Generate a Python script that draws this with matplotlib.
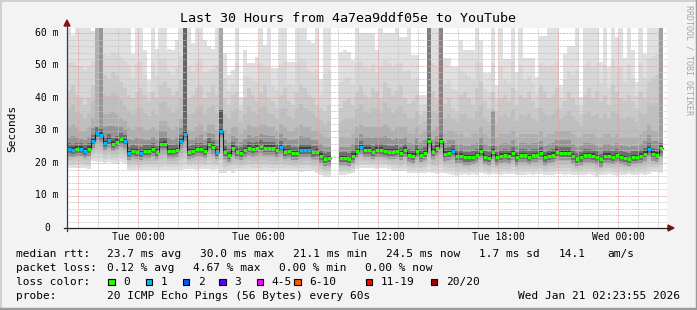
import numpy as np
import matplotlib
matplotlib.use("Agg")
import matplotlib.pyplot as plt
from matplotlib.patches import Rectangle, Polygon
from matplotlib.lines import Line2D

nan = np.nan

# one column every 12 minutes, hours counted from Tue 00:00
start_hour = -3.55
step_hour = 0.2

median = [24.3, 24.1, 24.4, 24.4, 23.8, 24.4, 26.8, 29.3, 28.7, 26.2,
          27.2, 26.0, 26.6, 27.4, 26.8, 23.2, 23.7, 23.5, 23.2, 23.7,
          23.7, 24.3, 23.5, 25.8, 26.0, 23.7, 23.7, 24.0, 26.8, 29.0,
          23.5, 23.7, 24.3, 24.3, 23.7, 25.9, 24.9, 23.5, 29.8, 23.5,
          22.5, 24.7, 23.5, 23.2, 24.0, 24.7, 24.3, 24.7, 25.3, 24.7,
          24.7, 24.7, 24.0, 24.9, 23.5, 23.7, 23.2, 23.2, 24.1, 24.1,
          24.1, 23.3, 23.5, 22.3, 21.2, 21.5, nan, nan, 21.5, 21.5,
          21.3, 22.3, 23.7, 24.9, 24.1, 24.1, 23.5, 24.1, 24.1, 23.7,
          23.5, 23.5, 23.7, 23.2, 24.1, 22.5, 22.3, 23.7, 22.5, 23.2,
          26.8, 23.5, 24.7, 26.8, 22.9, 23.2, 23.7, 22.3, 22.3, 21.7,
          21.7, 21.9, 22.5, 23.7, 21.9, 21.6, 23.5, 21.7, 22.3, 22.5,
          22.3, 23.2, 21.7, 22.5, 22.5, 21.9, 22.5, 22.5, 23.1, 21.7,
          22.3, 22.6, 23.5, 23.2, 23.2, 23.2, 22.2, 21.3, 21.7, 22.5,
          22.5, 22.3, 21.9, 21.1, 22.3, 22.3, 21.9, 22.5, 21.9, 21.6,
          21.3, 21.9, 21.9, 22.3, 22.9, 24.3, 22.9, 22.6, 24.5]

# columns where 1 of 20 pings was lost
one_loss = [0, 1, 3, 4, 6, 7, 8, 9, 10, 14, 15, 18, 28, 29, 37, 38,
            53, 58, 59, 60, 73, 96, 145]

smoke_top = [61.5, 59.4, 61.5, 61.5, 61.5, 61.5, 60.5, 61.5, 61.5, 61.5,
             61.5, 61.5, 61.5, 61.5, 61.5, 61.5, 53.5, 61.5, 61.5, 54.8,
             45.5, 61.5, 55.0, 61.5, 61.5, 55.0, 54.8, 58.0, 61.5, 61.5,
             61.5, 57.0, 61.5, 61.5, 58.0, 56.0, 55.0, 61.5, 61.5, 53.8,
             47.0, 48.5, 61.5, 40.3, 54.8, 50.7, 50.7, 52.6, 61.5, 56.3,
             61.5, 49.2, 49.2, 61.5, 61.5, 51.0, 51.0, 61.5, 61.5, 61.5,
             57.8, 57.0, 61.5, 46.0, 61.5, 61.5, nan, nan, 54.3, 54.8,
             54.3, 51.7, 61.5, 60.0, 60.0, 60.0, 60.0, 54.8, 61.5, 60.0,
             60.0, 60.0, 61.5, 58.8, 58.8, 61.5, 53.2, 53.2, 40.9, 40.9,
             61.5, 61.5, 61.5, 61.5, 52.3, 52.3, 49.6, 49.6, 57.8, 54.8,
             54.8, 54.8, 61.5, 58.0, 47.6, 47.6, 61.5, 44.0, 61.5, 52.0,
             52.0, 61.5, 48.0, 61.5, 52.3, 52.3, 52.3, 46.6, 59.0, 59.0,
             61.5, 61.5, 61.5, 44.0, 53.5, 56.0, 56.0, 61.5, 40.3, 61.5,
             61.5, 61.5, 61.5, 51.2, 61.5, 49.6, 61.5, 58.8, 61.5, 52.3,
             61.5, 54.8, 45.0, 61.5, 53.5, 61.5, 61.5, 61.5, 61.5]

smoke_mid = [42, 44, 41, 40, 38, 40, 44, 48, 50, 47,
             46, 48, 47, 45, 43, 41, 40, 42, 43, 41,
             39, 42, 40, 44, 45, 43, 41, 42, 46, 50,
             40, 41, 43, 44, 40, 42, 44, 41, 48, 40,
             38, 41, 42, 36, 40, 43, 41, 39, 42, 44,
             40, 39, 37, 41, 43, 39, 38, 42, 44, 43,
             41, 40, 38, 37, 36, 38, nan, nan, 37, 39,
             40, 38, 42, 44, 41, 40, 43, 42, 40, 45,
             43, 41, 42, 44, 40, 38, 39, 41, 35, 36,
             48, 42, 40, 47, 38, 40, 37, 36, 41, 42,
             40, 38, 43, 45, 39, 37, 42, 36, 40, 41,
             39, 43, 38, 41, 40, 42, 39, 37, 44, 42,
             40, 41, 43, 37, 39, 42, 40, 38, 35, 41,
             43, 40, 42, 39, 41, 38, 44, 42, 40, 39,
             41, 39, 37, 42, 40, 45, 46, 47, 50]

smoke_upper = [31, 32, 31, 30, 30, 31, 34, 37, 38, 35,
               35, 36, 35, 34, 33, 31, 30, 31, 31, 30,
               30, 31, 30, 33, 33, 31, 30, 31, 34, 40,
               30, 30, 31, 32, 30, 32, 32, 30, 36, 30,
               29, 31, 31, 29, 30, 32, 31, 31, 32, 32,
               31, 31, 30, 32, 31, 30, 30, 31, 32, 31,
               31, 30, 30, 29, 28, 28, nan, nan, 28, 28,
               28, 29, 31, 32, 31, 31, 31, 31, 31, 32,
               31, 30, 31, 31, 31, 29, 29, 31, 29, 30,
               36, 30, 31, 35, 29, 30, 30, 29, 29, 28,
               28, 29, 29, 31, 29, 28, 31, 28, 29, 29,
               29, 30, 28, 29, 29, 29, 29, 29, 30, 28,
               29, 29, 30, 30, 30, 30, 29, 28, 28, 29,
               29, 29, 28, 28, 29, 29, 28, 29, 28, 28,
               28, 28, 28, 29, 30, 32, 30, 30, 33]

smoke_low = [18.4, 18.4, 18.5, 18.5, 18.4, 18.3, 20.5, 20.4, 20.2, 20.0,
             20.3, 20.1, 19.8, 20.4, 20.0, 17.8, 17.9, 17.8, 17.7, 17.9,
             17.8, 17.8, 18.0, 17.7, 17.8, 17.8, 17.9, 17.8, 17.8, 18.1,
             18.2, 18.2, 18.0, 18.3, 18.1, 18.2, 18.0, 18.2, 16.9, 16.9,
             17.4, 16.9, 17.5, 17.5, 17.4, 17.6, 17.5, 17.5, 17.4, 17.6,
             17.5, 17.3, 17.5, 17.5, 17.6, 17.4, 17.5, 17.5, 17.3, 17.5,
             17.5, 17.4, 17.0, 16.3, 15.8, 15.8, nan, nan, 16.3, 16.3,
             16.5, 16.8, 18.3, 18.5, 18.5, 18.4, 18.5, 18.3, 18.5, 18.5,
             18.2, 17.6, 17.6, 17.5, 17.6, 17.0, 16.9, 16.8, 16.8, 17.0,
             17.2, 17.0, 16.7, 16.9, 16.8, 16.6, 16.4, 16.0, 16.2, 16.6,
             16.3, 16.5, 16.4, 16.8, 16.5, 16.2, 16.5, 16.6, 16.4, 16.5,
             16.5, 16.7, 16.2, 16.4, 16.3, 16.6, 16.4, 16.5, 16.5, 16.3,
             16.4, 16.2, 16.5, 16.6, 16.4, 16.6, 16.3, 16.2, 16.4, 16.3,
             16.5, 16.4, 15.8, 16.3, 16.2, 16.6, 16.4, 16.1, 16.4, 16.2,
             16.6, 16.2, 16.4, 16.5, 16.3, 16.6, 17.2, 17.3, 17.0]

# columns where many pings were slow (dark streaks)
spike_cols = [7, 8, 29, 38, 38, 90, 93, 106, 148]
spike_tops = [61.5, 61.5, 61.5, 61.5, 36.3, 61.5, 61.5, 36.0, 61.5]
spike_share = [0.25, 0.4, 0.7, 0.3, 0.8, 0.55, 0.5, 0.4, 0.35]

loss_labels = ["0", "1", "2", "3", "4-5", "6-10", "11-19", "20/20"]
loss_colors = ["#26ff00", "#00b8ff", "#0059ff", "#5e00ff", "#ff00ff",
               "#ff5500", "#ff0000", "#a10000"]

hour_ticks = [0, 6, 12, 18, 24]
hour_labels = ["Tue 00:00", "Tue 06:00", "Tue 12:00", "Tue 18:00", "Wed 00:00"]

W, H = 697, 310
MONO = "DejaVu Sans Mono"

fig = plt.figure(figsize=(W / 100, H / 100), dpi=100)
fig.patch.set_facecolor("#f3f3f3")


def fx(x):
    return x / W


def fy(y):
    return 1 - y / H


def put(x, y, s, **kw):
    kw.setdefault("family", MONO)
    kw.setdefault("fontsize", 8)
    kw.setdefault("va", "center")
    fig.text(fx(x), fy(y), s, **kw)


ax = fig.add_axes([fx(67), fy(228), 600 / W, 200 / H])
ax.set_facecolor("white")
for s in ax.spines.values():
    s.set_visible(False)
ax.set_xticks([])
ax.set_yticks([])
ymax = 200 / 3.25
ax.set_xlim(start_hour, start_hour + 30)
ax.set_ylim(0, ymax)

med = np.array(median)
n = len(med)
t = start_hour + step_hour * np.arange(n)
top = np.array(smoke_top)
mid = np.minimum(np.array(smoke_mid, float), top)
upp = np.minimum(np.array(smoke_upper, float), mid)
low = np.array(smoke_low)


def layer(lo, hi, color, z):
    ax.bar(t, hi - lo, bottom=lo, width=step_hour, align="edge",
           color=color, lw=0, antialiased=False, zorder=z)


# smoke, light outside to dark near the median
layer(low, top, "#e0e0e0", 1)
layer(low + 0.15 * (med - low), mid + 0.45 * (top - mid), "#d6d6d6", 1.05)
layer(low + 0.3 * (med - low), mid, "#c9c9c9", 1.1)
layer(low + 0.45 * (med - low), upp + 0.5 * (mid - upp), "#bebebe", 1.15)
layer(low + 0.6 * (med - low), upp, "#afafaf", 1.2)
layer(med - 2.2, med + 0.55 * (upp - med), "#959595", 1.3)
for c, tp, sh in zip(spike_cols, spike_tops, spike_share):
    g = 0.85 - 0.65 * sh
    ax.bar(t[c], tp - med[c], bottom=med[c], width=step_hour, align="edge",
           color=(g, g, g), lw=0, antialiased=False, zorder=1.35)
layer(med - 1.3, med + 1.8, "#6e6e6e", 1.4)
layer(med - 0.6, med + 0.7, "#404040", 1.5)

# grid
dot = (0, (0.72, 0.72))
for h in range(-3, 27):
    if h % 3 == 0:
        ax.axvline(h, color="#e89a9a", lw=0.72, ls=dot, zorder=3)
    else:
        ax.axvline(h, color="#c4c4c4", lw=0.72, ls=dot, zorder=2.9)
for v in range(2, 62, 2):
    if v % 10 == 0:
        ax.axhline(v, color="#e89a9a", lw=0.72, ls=dot, zorder=3)
    else:
        ax.axhline(v, color="#c4c4c4", lw=0.72, ls=dot, zorder=2.9)

# median line
edges = np.append(t, t[-1] + step_hour)
ax.step(edges, np.append(med, med[-1]), where="post", color="#202020",
        lw=0.8, zorder=4)
cols = [loss_colors[1] if i in one_loss else loss_colors[0] for i in range(n)]
ax.hlines(med, t, t + step_hour, colors=cols, lw=2.2, zorder=5)

# axes lines and arrows
fig.add_artist(Line2D([fx(67), fx(67)], [fy(231), fy(25)], color="#3a3a3a", lw=0.9))
fig.add_artist(Line2D([fx(64), fx(670)], [fy(228), fy(228)], color="#202020", lw=0.9))
fig.add_artist(Polygon([[fx(64), fy(26)], [fx(70), fy(26)], [fx(67), fy(20)]],
                       closed=True, color="#8b1010", transform=fig.transFigure))
fig.add_artist(Polygon([[fx(668), fy(225)], [fx(668), fy(231)], [fx(674), fy(228)]],
                       closed=True, color="#8b1010", transform=fig.transFigure))

# tick labels
for v in range(0, 70, 10):
    y = 228 - v * 3.25
    put(47, y, "0" if v == 0 else "%d m" % v, fontsize=7, ha="center")
for h, lab in zip(hour_ticks, hour_labels):
    put(138 + 20 * h, 237.5, lab, fontsize=7, ha="center")

put(347.5, 19, "Last 30 Hours from 4a7ea9ddf05e to YouTube", fontsize=9.6, ha="center")
put(12, 128, "Seconds", fontsize=8, ha="center", rotation=90)
put(689, 60, "RRDTOOL / TOBI OETIKER", fontsize=6, ha="center", rotation=270,
    color="#a6a6a6")

# legend
r1 = 254
put(16, r1, "median rtt:")
put(107.3, r1, "23.7 ms avg")
put(200, r1, "30.0 ms max")
put(293.3, r1, "21.1 ms min")
put(386, r1, "24.5 ms now")
put(479.3, r1, "1.7 ms sd")
put(558.3, r1, "14.1")
put(607.3, r1, "am/s")

r2 = 268
put(16, r2, "packet loss:")
put(107.3, r2, "0.12 % avg")
put(193.3, r2, "4.67 % max")
put(279.3, r2, "0.00 % min")
put(365, r2, "0.00 % now")

r3 = 282
put(16, r3, "loss color:")
box_x = [108.3, 145.7, 182.7, 219.3, 256.7, 294.0, 365.7, 430.7]
for bx, lab, col in zip(box_x, loss_labels, loss_colors):
    fig.add_artist(Rectangle((fx(bx), fy(r3 + 3.3)), 6.7 / W, 6.7 / H,
                             facecolor=col, edgecolor="black", lw=0.8,
                             transform=fig.transFigure))
    put(bx + 15, r3, lab)

r4 = 296
put(16, r4, "probe:")
put(107.3, r4, "20 ICMP Echo Pings (56 Bytes) every 60s")
put(680, r4, "Wed Jan 21 02:23:55 2026", ha="right")

# frame
fig.add_artist(Line2D([0, 0, 1], [0, 1, 1], color="#cfcfcf", lw=2))
fig.add_artist(Line2D([0, 1, 1], [0.003, 0.003, 1], color="#9a9a9a", lw=2.5))

fig.savefig("out.png", dpi=100, facecolor=fig.get_facecolor())
